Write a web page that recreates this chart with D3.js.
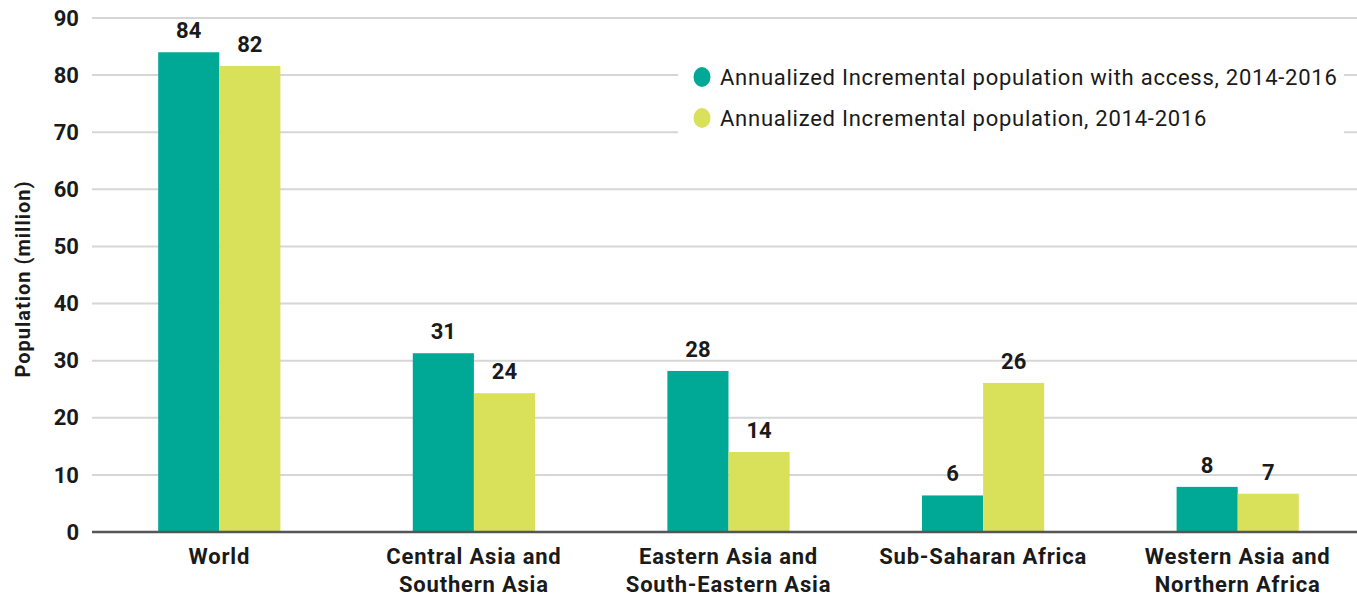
<!DOCTYPE html>
<html>
<head>
  <meta charset='utf-8'>
  <title>Annualized incremental population</title>
  <script src='https://cdn.jsdelivr.net/npm/d3@7'></script>
  <style>
    body { margin: 0; background: #fff; }
    text { font-family: 'Roboto', 'Liberation Sans', sans-serif; fill: #1a1a1a; }
  </style>
</head>
<body>
  <svg id='chart' width='1357' height='596'></svg>
  <script>
    // chart data
    const regions = ['World', 'Central Asia and|Southern Asia', 'Eastern Asia and|South-Eastern Asia',
                     'Sub-Saharan Africa', 'Western Asia and|Northern Africa'];
    const withAccess = [84.0, 31.3, 28.2, 6.4, 7.9];
    const population = [81.6, 24.3, 14.0, 26.1, 6.7];
    const seriesNames = ['Annualized Incremental population with access, 2014-2016',
                         'Annualized Incremental population, 2014-2016'];
    const colors = ['#00a896', '#d9e05a'];
    const yTicks = [0, 10, 20, 30, 40, 50, 60, 70, 80, 90];

    (() => {
    const svg = d3.select('#chart');
    const plotLeft = 92, plotRight = 1365, plotTop = 18, plotBottom = 532;

    const x = d3.scaleBand()
        .domain(regions)
        .range([plotLeft, plotRight])
        .paddingInner(0.52)
        .paddingOuter(0.26);
    const sub = d3.scaleBand()
        .domain([0, 1])
        .range([0, x.bandwidth()]);
    const y = d3.scaleLinear()
        .domain([0, 90])
        .range([plotBottom, plotTop]);

    // gridlines
    svg.append('g')
        .selectAll('line')
        .data(yTicks.filter(d => d > 0))
        .join('line')
            .attr('x1', plotLeft)
            .attr('x2', 1357)
            .attr('y1', d => y(d))
            .attr('y2', d => y(d))
            .attr('stroke', '#d6d6d6')
            .attr('stroke-width', 2);

    // y tick labels
    svg.append('g')
        .selectAll('text')
        .data(yTicks)
        .join('text')
            .attr('x', 79)
            .attr('y', d => y(d))
            .attr('dy', '0.35em')
            .attr('text-anchor', 'end')
            .attr('font-size', 22)
            .attr('font-weight', 'bold')
            .text(d => d);

    // y title
    svg.append('text')
        .attr('transform', `translate(30, ${(plotTop + plotBottom) / 2 + 4}) rotate(-90)`)
        .attr('text-anchor', 'middle')
        .attr('font-size', 20)
        .attr('letter-spacing', 1)
        .attr('font-weight', 'bold')
        .text('Population (million)');

    // bars and value labels
    const rows = regions.map((r, i) => [withAccess[i], population[i]]);
    const groups = svg.append('g')
        .selectAll('g')
        .data(rows)
        .join('g')
            .attr('transform', (d, i) => `translate(${x(regions[i])}, 0)`);
    groups.selectAll('rect')
        .data(d => d)
        .join('rect')
            .attr('x', (d, j) => sub(j))
            .attr('width', sub.bandwidth())
            .attr('y', d => y(d))
            .attr('height', d => y(0) - y(d))
            .attr('fill', (d, j) => colors[j]);
    groups.selectAll('text')
        .data(d => d)
        .join('text')
            .attr('x', (d, j) => sub(j) + sub.bandwidth() / 2)
            .attr('y', d => y(d) - 14)
            .attr('text-anchor', 'middle')
            .attr('font-size', 22)
            .attr('font-weight', 'bold')
            .text(d => Math.round(d));

    // x axis line
    svg.append('line')
        .attr('x1', plotLeft)
        .attr('x2', 1357)
        .attr('y1', plotBottom)
        .attr('y2', plotBottom)
        .attr('stroke', '#555')
        .attr('stroke-width', 2.5);

    // x labels
    const xl = svg.append('g')
        .selectAll('text')
        .data(regions)
        .join('text')
            .attr('x', d => x(d) + x.bandwidth() / 2)
            .attr('y', 564)
            .attr('text-anchor', 'middle')
            .attr('font-size', 22)
            .attr('letter-spacing', 0.8)
            .attr('font-weight', 'bold');
    xl.each(function (d) {
        const lines = d.split('|');
        d3.select(this).selectAll('tspan')
            .data(lines)
            .join('tspan')
                .attr('x', x(d) + x.bandwidth() / 2)
                .attr('dy', (l, k) => k === 0 ? 0 : 28)
                .text(l => l);
    });

    // legend
    const legend = svg.append('g');
    legend.append('rect')
        .attr('x', 678)
        .attr('y', 58)
        .attr('width', 666)
        .attr('height', 82)
        .attr('fill', '#fff');
    seriesNames.forEach((name, i) => {
        const ly = 77 + i * 41;
        legend.append('ellipse')
            .attr('cx', 702)
            .attr('cy', ly)
            .attr('rx', 8.5)
            .attr('ry', 10)
            .attr('fill', colors[i]);
        legend.append('text')
            .attr('x', 720)
            .attr('y', ly)
            .attr('dy', '0.35em')
            .attr('font-size', 22)
            .attr('letter-spacing', 0.75)
            .text(name);
    });
    })();
  </script>
</body>
</html>
